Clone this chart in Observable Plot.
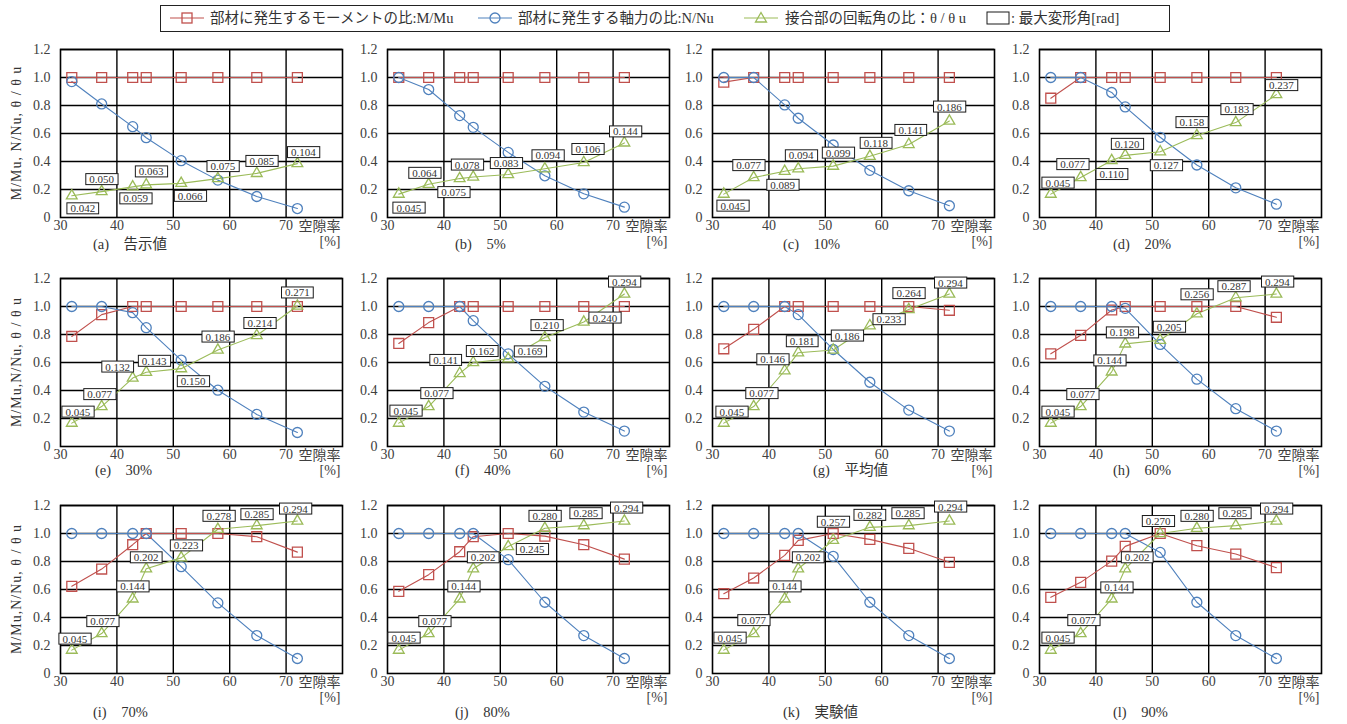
<!DOCTYPE html>
<html>
<head>
<meta charset="utf-8">
<script src="https://cdn.jsdelivr.net/npm/d3@7"></script>
<script src="https://cdn.jsdelivr.net/npm/@observablehq/plot@0.6"></script>
<style>
  body { margin: 0; background: #fff; }
  #root { position: relative; width: 1347px; height: 724px; overflow: hidden;
    font-family: "Liberation Serif", "DejaVu Serif", "Noto Sans CJK JP", serif; color: #333; }
  .abs { position: absolute; white-space: pre; }
  .cap { font-size: 14.5px; line-height: 18px; }
  .leg { font-size: 14.5px; line-height: 18px; top: 9px; }
  .ylab { font-size: 14px; line-height: 16px; letter-spacing: 1px; transform-origin: center center; text-align: center; width: 200px; }
</style>
</head>
<body>
<div id="root"></div>
<script>
// ---------------- data ----------------
const voidRatio = [32.0, 37.3, 42.8, 45.2, 51.4, 57.9, 64.8, 72.0];
const xTicks = [30, 40, 50, 60, 70];
const yTicks = [0, 0.2, 0.4, 0.6, 0.8, 1.0, 1.2];

const captions = ["(a)　告示値", "(b)　5%", "(c)　10%", "(d)　20%",
                  "(e)　30%", "(f)　40%", "(g)　平均値", "(h)　60%",
                  "(i)　70%", "(j)　80%", "(k)　実験値", "(l)　90%"];

const yLabels = ["M/Mu, N/Nu, θ / θ u", "M/Mu,N/Nu, θ / θ u", "M/Mu,N/Nu, θ / θ u"];
const xLabel = "空隙率\n[%]";

const legendLabels = ["部材に発生するモーメントの比:M/Mu", "部材に発生する軸力の比:N/Nu",
                      "接合部の回転角の比：θ / θ u", ": 最大変形角[rad]"];

// M/Mu per panel
const mRatio = [
  [1, 1, 1, 1, 1, 1, 1, 1],
  [1, 1, 1, 1, 1, 1, 1, 1],
  [0.967, 1, 1, 1, 1, 1, 1, 1],
  [0.852, 1, 1, 1, 1, 1, 1, 1],
  [0.786, 0.942, 1.0, 1, 1, 1, 1, 1],
  [0.736, 0.885, 1.0, 1, 1, 1, 1, 1],
  [0.698, 0.837, 1.0, 1, 1, 1, 1, 0.973],
  [0.662, 0.794, 0.975, 1.0, 1, 1, 1, 0.923],
  [0.623, 0.746, 0.920, 1.0, 1.0, 1.0, 0.977, 0.867],
  [0.587, 0.706, 0.870, 0.977, 1.0, 0.981, 0.920, 0.817],
  [0.570, 0.682, 0.844, 0.951, 1.0, 0.958, 0.894, 0.794],
  [0.544, 0.651, 0.803, 0.908, 1.0, 0.913, 0.853, 0.756]
];
// N/Nu per panel
const nRatio = [
  [0.971, 0.811, 0.649, 0.570, 0.406, 0.267, 0.150, 0.064],
  [1.0, 0.914, 0.728, 0.644, 0.465, 0.298, 0.169, 0.074],
  [1.0, 1.0, 0.804, 0.709, 0.518, 0.337, 0.191, 0.084],
  [1.0, 1.0, 0.893, 0.790, 0.573, 0.375, 0.212, 0.095],
  [1.0, 1.0, 0.956, 0.849, 0.617, 0.402, 0.229, 0.100],
  [1.0, 1.0, 1.0, 0.899, 0.662, 0.430, 0.246, 0.110],
  [1.0, 1.0, 1.0, 0.942, 0.693, 0.459, 0.260, 0.110],
  [1.0, 1.0, 1.0, 0.987, 0.729, 0.481, 0.270, 0.110],
  [1.0, 1.0, 1.0, 1.0, 0.763, 0.504, 0.271, 0.107],
  [1.0, 1.0, 1.0, 1.0, 0.813, 0.509, 0.271, 0.107],
  [1.0, 1.0, 1.0, 1.0, 0.837, 0.509, 0.271, 0.107],
  [1.0, 1.0, 1.0, 1.0, 0.865, 0.509, 0.271, 0.107]
];
// θ/θu per panel
const thetaRatio = [
  [0.155, 0.185, 0.219, 0.233, 0.244, 0.278, 0.315, 0.385],
  [0.167, 0.237, 0.278, 0.289, 0.307, 0.348, 0.393, 0.533],
  [0.167, 0.285, 0.330, 0.348, 0.367, 0.437, 0.522, 0.689],
  [0.167, 0.285, 0.407, 0.444, 0.470, 0.585, 0.678, 0.878],
  [0.167, 0.285, 0.489, 0.530, 0.556, 0.689, 0.793, 1.004],
  [0.167, 0.285, 0.522, 0.600, 0.626, 0.778, 0.889, 1.089],
  [0.167, 0.285, 0.541, 0.670, 0.689, 0.863, 0.978, 1.089],
  [0.167, 0.285, 0.533, 0.733, 0.759, 0.948, 1.063, 1.089],
  [0.167, 0.285, 0.533, 0.748, 0.826, 1.030, 1.056, 1.089],
  [0.167, 0.285, 0.533, 0.748, 0.907, 1.037, 1.056, 1.089],
  [0.167, 0.285, 0.533, 0.748, 0.952, 1.044, 1.056, 1.089],
  [0.167, 0.285, 0.533, 0.748, 1.000, 1.037, 1.056, 1.089]
];
// maximum drift angle [rad] labels
const maxDrift = [
  ["0.042", "0.050", "0.059", "0.063", "0.066", "0.075", "0.085", "0.104"],
  ["0.045", "0.064", "0.075", "0.078", "0.083", "0.094", "0.106", "0.144"],
  ["0.045", "0.077", "0.089", "0.094", "0.099", "0.118", "0.141", "0.186"],
  ["0.045", "0.077", "0.110", "0.120", "0.127", "0.158", "0.183", "0.237"],
  ["0.045", "0.077", "0.132", "0.143", "0.150", "0.186", "0.214", "0.271"],
  ["0.045", "0.077", "0.141", "0.162", "0.169", "0.210", "0.240", "0.294"],
  ["0.045", "0.077", "0.146", "0.181", "0.186", "0.233", "0.264", "0.294"],
  ["0.045", "0.077", "0.144", "0.198", "0.205", "0.256", "0.287", "0.294"],
  ["0.045", "0.077", "0.144", "0.202", "0.223", "0.278", "0.285", "0.294"],
  ["0.045", "0.077", "0.144", "0.202", "0.245", "0.280", "0.285", "0.294"],
  ["0.045", "0.077", "0.144", "0.202", "0.257", "0.282", "0.285", "0.294"],
  ["0.045", "0.077", "0.144", "0.202", "0.270", "0.280", "0.285", "0.294"]
];

// ---------------- layout (label offsets in px, panel placement) ----------------
const labelOffset = [
  [[11,13],[0,-12],[3,12],[5,-13],[9,13],[5,-12],[5,-12],[6,-11]],
  [[10,14],[-4,-11],[-6,14],[-6,-12],[-2,-11],[3,-13],[4,-13],[1,-11]],
  [[9,12],[-5,-12],[-2,14],[3,-13],[5,-13],[6,-13],[2,-14],[0,-14]],
  [[7,-11],[-8,-13],[0,14],[2,-11],[6,14],[-5,-13],[1,-13],[5,-9]],
  [[6,-11],[-2,-12],[-15,-11],[8,-11],[12,13],[0,-13],[3,-12],[0,-13]],
  [[7,-12],[8,-13],[-14,-13],[9,-11],[22,-7],[2,-12],[21,-4],[0,-12]],
  [[8,-11],[8,-13],[-12,-11],[4,-11],[14,-14],[19,-6],[0,-16],[1,-11]],
  [[7,-11],[2,-12],[-2,-11],[-3,-11],[9,-13],[0,-19],[-2,-11],[1,-12]],
  [[3,-11],[1,-12],[0,-12],[0,-11],[5,-12],[1,-13],[0,-11],[-2,-12]],
  [[5,-12],[6,-12],[4,-12],[10,-11],[24,3],[0,-12],[2,-12],[2,-13]],
  [[6,-12],[0,-13],[0,-12],[10,-11],[0,-18],[0,-12],[-1,-12],[1,-14]],
  [[7,-12],[3,-13],[5,-11],[12,-11],[-2,-12],[0,-12],[-1,-12],[0,-12]]
];
const plotLefts = [60, 387, 712, 1039];
const plotTops = [49, 278, 505];
const captionLefts = [[93, 455, 783, 1113], [95, 455, 813, 1113], [93, 455, 783, 1113]];
const captionYs = [244, 470, 712];

const RED = "#C0504D", BLUE = "#4F81BD", GREEN = "#9BBB59";
const FONT = '"Liberation Serif", "DejaVu Serif", "Noto Sans CJK JP", serif';
const PW = 282, PH = 168, MT = 8, MB = 38, MR = 6;

const root = document.getElementById("root");
const SVGNS = "http://www.w3.org/2000/svg";

function boxLabels(svg) {
  svg.querySelectorAll("text").forEach(t => {
    if (!/^\d\.\d{3}$/.test(t.textContent)) return;
    const b = t.getBBox();
    const r = document.createElementNS(SVGNS, "rect");
    r.setAttribute("x", b.x - 3.5);
    r.setAttribute("y", b.y + 0.5);
    r.setAttribute("width", b.width + 7);
    r.setAttribute("height", b.height - 1);
    r.setAttribute("fill", "#fff");
    r.setAttribute("stroke", "#1a1a1a");
    r.setAttribute("stroke-width", "1");
    const tr = t.getAttribute("transform");
    if (tr) r.setAttribute("transform", tr);
    t.parentNode.insertBefore(r, t);
  });
}

captions.forEach((cap, i) => {
  const col = i % 4, row = Math.floor(i / 4);
  const ml = col === 0 ? 60 : 45;
  const rows = voidRatio.map((x, j) => ({
    x, m: mRatio[i][j], n: nRatio[i][j], t: thetaRatio[i][j], lab: maxDrift[i][j]
  }));
  const labelMarks = rows.map((r, j) => Plot.text([r], {
    x: "x", y: "t", text: "lab",
    dx: labelOffset[i][j][0], dy: labelOffset[i][j][1],
    fontSize: 11, fill: "#333"
  }));
  const svg = Plot.plot({
    width: ml + PW + MR, height: MT + PH + MB,
    marginLeft: ml, marginRight: MR, marginTop: MT, marginBottom: MB,
    style: { fontFamily: FONT, fontSize: "14px", color: "#404040", background: "transparent", overflow: "visible" },
    x: { domain: [30, 80], ticks: xTicks, tickSize: 0, tickPadding: 3, tickFormat: d => String(d), label: null },
    y: { domain: [0, 1.2], ticks: yTicks, tickSize: 0, tickPadding: 10,
         tickFormat: d => d === 0 ? "0" : d.toFixed(1), label: null },
    marks: [
      Plot.ruleY(yTicks.filter(v => v > 0), { stroke: "black", strokeWidth: 1.4 }),
      Plot.ruleX(xTicks.filter(v => v > 30), { stroke: "black", strokeWidth: 1.4 }),
      Plot.frame({ stroke: "black", strokeWidth: 1.6 }),
      Plot.line(rows, { x: "x", y: "m", stroke: RED, strokeWidth: 1.1 }),
      Plot.line(rows, { x: "x", y: "n", stroke: BLUE, strokeWidth: 1.1 }),
      Plot.line(rows, { x: "x", y: "t", stroke: GREEN, strokeWidth: 1.1 }),
      Plot.dot(rows, { x: "x", y: "m", symbol: "square", r: 5.6, stroke: RED, fill: "none", strokeWidth: 1.3 }),
      Plot.dot(rows, { x: "x", y: "n", symbol: "circle", r: 5, stroke: BLUE, fill: "none", strokeWidth: 1.3 }),
      Plot.dot(rows, { x: "x", y: "t", symbol: "triangle", r: 4, stroke: GREEN, fill: "none", strokeWidth: 1.3 }),
      ...labelMarks,
      Plot.text([xLabel], { text: d => d, frameAnchor: "bottom-right", textAnchor: "end",
        lineAnchor: "top", dy: 3, dx: -2, fontSize: 14, lineHeight: 1.05, fill: "#404040" })
    ]
  });
  svg.style.position = "absolute";
  svg.style.left = (plotLefts[col] - ml) + "px";
  svg.style.top = (plotTops[row] - MT) + "px";
  root.appendChild(svg);
  boxLabels(svg);

  const c = document.createElement("div");
  c.className = "abs cap";
  c.textContent = cap;
  c.style.left = captionLefts[row][col] + "px";
  c.style.top = (captionYs[row] - 9) + "px";
  root.appendChild(c);
});

// y-axis titles (first column)
yLabels.forEach((lab, row) => {
  const d = document.createElement("div");
  d.className = "abs ylab";
  d.textContent = lab;
  const cy = plotTops[row] + PH / 2;
  d.style.left = (17 - 100) + "px";
  d.style.top = (cy - 8) + "px";
  d.style.transform = "rotate(-90deg)";
  root.appendChild(d);
});

// legend
const leg = document.createElement("div");
leg.className = "abs";
Object.assign(leg.style, { left: "160px", top: "5px", width: "1010px", height: "27px",
  border: "1px solid #222", boxSizing: "border-box" });
root.appendChild(leg);

function icon(left, kind, color) {
  const s = document.createElementNS(SVGNS, "svg");
  s.setAttribute("width", 40); s.setAttribute("height", 20);
  s.style.position = "absolute"; s.style.left = left + "px"; s.style.top = "8px";
  if (kind !== "box") {
    const l = document.createElementNS(SVGNS, "line");
    l.setAttribute("x1", 2); l.setAttribute("x2", 36); l.setAttribute("y1", 10); l.setAttribute("y2", 10);
    l.setAttribute("stroke", color); l.setAttribute("stroke-width", 1.2);
    s.appendChild(l);
  }
  let m;
  if (kind === "square") {
    m = document.createElementNS(SVGNS, "rect");
    m.setAttribute("x", 14); m.setAttribute("y", 5); m.setAttribute("width", 10); m.setAttribute("height", 10);
  } else if (kind === "circle") {
    m = document.createElementNS(SVGNS, "circle");
    m.setAttribute("cx", 19); m.setAttribute("cy", 10); m.setAttribute("r", 5);
  } else if (kind === "triangle") {
    m = document.createElementNS(SVGNS, "path");
    m.setAttribute("d", "M19,4.5 L24.5,14 L13.5,14 Z");
  } else {
    m = document.createElementNS(SVGNS, "rect");
    m.setAttribute("x", 16); m.setAttribute("y", 4); m.setAttribute("width", 22); m.setAttribute("height", 12);
  }
  m.setAttribute("fill", kind === "box" ? "#fff" : "none");
  m.setAttribute("stroke", color); m.setAttribute("stroke-width", kind === "box" ? 1 : 1.3);
  s.appendChild(m);
  root.appendChild(s);
}
icon(168, "square", RED);
icon(476, "circle", BLUE);
icon(742, "triangle", GREEN);
icon(971, "box", "#1a1a1a");
const legLefts = [210, 518, 785, 1011];
legendLabels.forEach((t, k) => {
  const d = document.createElement("div");
  d.className = "abs leg";
  d.textContent = t;
  d.style.left = legLefts[k] + "px";
  root.appendChild(d);
});
</script>
</body>
</html>
